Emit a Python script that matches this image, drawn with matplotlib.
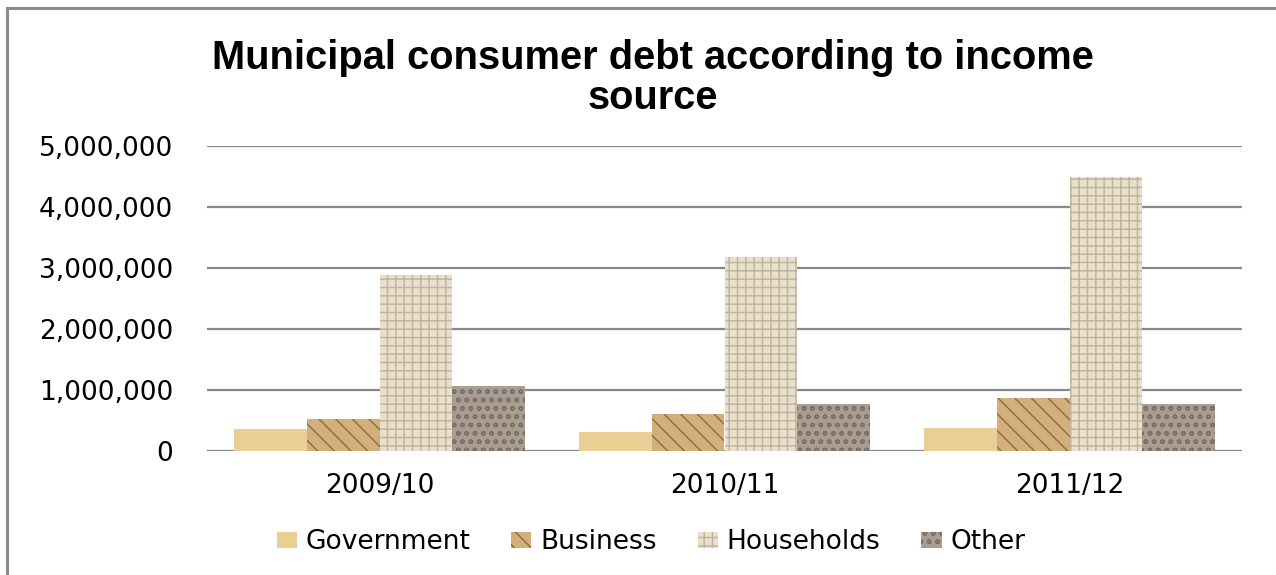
#!/usr/bin/env python3
"""Grouped bar chart of municipal consumer debt by income source."""

import matplotlib.pyplot as plt
import numpy as np
from matplotlib.lines import Line2D
from matplotlib.patches import Patch
from matplotlib.ticker import FuncFormatter

years = ["2009/10", "2010/11", "2011/12"]
sources = ["Government", "Business", "Households", "Other"]

government = [350000, 305000, 375000]
business = [515000, 595000, 860000]
households = [2890000, 3175000, 4485000]
other = [1055000, 760000, 760000]

# base fill, texture line colour, hatch pattern
styles = {
    "Government": ("#eacf95", "#e2c383", ""),
    "Business": ("#d3af7c", "#8d6a3e", "\\\\"),
    "Households": ("#e9e0cb", "#bdb29c", "++"),
    "Other": ("#a99c91", "#7a6e65", "oo"),
}

fig = plt.figure(figsize=(12.76, 5.75), dpi=100)
ax = fig.add_axes([207 / 1276, 1 - 450.7 / 575, 1035 / 1276, 304.7 / 575])

x = np.arange(len(years))
width = 0.211
plt.rcParams["hatch.linewidth"] = 1.0

for i, (name, values) in enumerate(
    zip(sources, [government, business, households, other])
):
    face, line, hatch = styles[name]
    pos = x + (i - 1.5) * width
    ax.bar(pos, values, width, color=face, linewidth=0, zorder=3)
    if hatch:
        ax.bar(pos, values, width, facecolor="none", edgecolor=line,
               linewidth=0, hatch=hatch, zorder=4)

ax.set_ylim(0, 5000000)
ax.set_xlim(-0.5, 2.5)
ax.set_yticks(np.arange(0, 5000001, 1000000))
ax.yaxis.set_major_formatter(FuncFormatter(lambda v, _: f"{int(v):,}"))
ax.set_xticks(x)
ax.set_xticklabels(years)
ax.grid(axis="y", color="#888888", linewidth=1.6, zorder=0)
ax.tick_params(axis="both", length=0, labelsize=19, colors="black")
ax.tick_params(axis="y", pad=24.5)
ax.tick_params(axis="x", pad=16)
for side in ax.spines.values():
    side.set_visible(False)

fig.text(653 / 1276, 1 - 78 / 575, "Municipal consumer debt according to income\nsource",
         ha="center", va="center", fontsize=28.7, fontweight="bold",
         family="Liberation Sans", linespacing=1.08)

handles = [
    Patch(facecolor=styles[s][0], edgecolor=styles[s][1], linewidth=0,
          hatch=styles[s][2])
    for s in sources
]
fig.legend(handles, sources, loc="center", bbox_to_anchor=(651 / 1276, 1 - 542 / 575),
           ncol=4, frameon=False, handlelength=0.76, handleheight=0.57,
           handletextpad=0.34, columnspacing=1.55,
           prop={"family": "DejaVu Sans", "size": 19})

# chart area border (clipped at the right and bottom of the image)
fig.add_artist(Line2D([7 / 1276, 7 / 1276], [0, 1 - 8 / 575],
                      transform=fig.transFigure, color="#8a8a8a", linewidth=2.2))
fig.add_artist(Line2D([7 / 1276, 1], [1 - 8 / 575, 1 - 8 / 575],
                      transform=fig.transFigure, color="#8a8a8a", linewidth=2.2))

fig.savefig("out.png", dpi=100)
